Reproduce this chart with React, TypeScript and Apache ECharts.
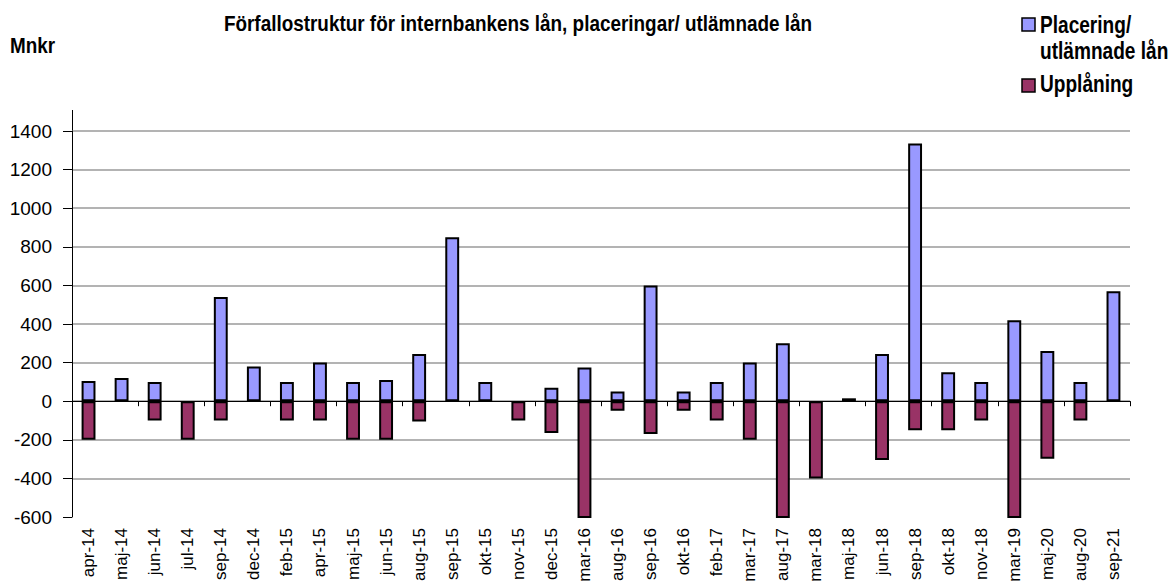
import React, { useEffect, useRef } from "react";
import * as echarts from "echarts";

const categories = [
  "apr-14", "maj-14", "jun-14", "jul-14", "sep-14", "dec-14", "feb-15", "apr-15",
  "maj-15", "jun-15", "aug-15", "sep-15", "okt-15", "nov-15", "dec-15", "mar-16",
  "aug-16", "sep-16", "okt-16", "feb-17", "mar-17", "aug-17", "mar-18", "maj-18",
  "jun-18", "sep-18", "okt-18", "nov-18", "mar-19", "maj-20", "aug-20", "sep-21",
];

const placering = [
  105, 120, 100, null, 540, 180, 100, 200,
  100, 110, 245, 850, 100, null, 70, 175,
  50, 600, 50, 100, 200, 300, null, 15,
  245, 1335, 150, 100, 420, 260, 100, 570,
];

const upplaning = [
  -200, null, -100, -200, -100, null, -100, -100,
  -200, -200, -105, null, null, -100, -165, -700,
  -50, -170, -50, -100, -200, -700, -400, null,
  -305, -150, -150, -100, -700, -298, -100, null,
];

const yTicks = { min: -600, max: 1400, interval: 200 };

const titleText = "Förfallostruktur för internbankens lån, placeringar/ utlämnade lån";
const unitText = "Mnkr";
const seriesNames = ["Placering/ utlämnade lån", "Upplåning"];
const legendLines = ["Placering/", "utlämnade lån", "Upplåning"];

const BLUE = "#9999FF";
const PURPLE = "#993366";
const ARIAL = "Arial, 'Liberation Sans', sans-serif";

export default function App() {
  const ref = useRef<HTMLDivElement>(null);

  useEffect(() => {
    if (!ref.current) return;
    const chart = echarts.init(ref.current, null, { renderer: "svg" });
    const nLines = (yTicks.max - yTicks.min) / yTicks.interval + 1;
    const splitColors = Array.from({ length: nLines }, (_, i) => (i === 0 ? "rgba(0,0,0,0)" : "#9a9a9a"));

    const boldText = (text: string, x: number, y: number, size: number, sx: number, align = "left") => ({
      type: "text",
      x,
      y,
      scaleX: sx,
      style: {
        text,
        font: `bold ${size}px ${ARIAL}`,
        fill: "#000",
        align,
        verticalAlign: "middle",
      },
    });

    chart.setOption({
      animation: false,
      backgroundColor: "#ffffff",
      grid: { left: 72, right: 40, top: 131, bottom: 67, containLabel: false, outerBoundsMode: "none" },
      xAxis: [
        {
          type: "category",
          data: categories,
          position: "bottom",
          boundaryGap: true,
          axisLine: { show: true, onZero: true, lineStyle: { color: "#000", width: 1 } },
          axisTick: { show: true, length: 5, lineStyle: { color: "#000" } },
          axisLabel: { show: false },
          splitLine: { show: false },
        },
        {
          type: "category",
          data: categories,
          position: "bottom",
          boundaryGap: true,
          axisLine: { show: false, onZero: false },
          axisTick: { show: false },
          axisLabel: {
            show: true,
            interval: 0,
            rotate: 90,
            margin: 11,
            fontFamily: ARIAL,
            fontSize: 17,
            color: "#000",
          },
          splitLine: { show: false },
        },
      ],
      yAxis: {
        type: "value",
        min: yTicks.min,
        max: yTicks.max,
        interval: yTicks.interval,
        axisLine: { show: true, lineStyle: { color: "#000", width: 1 } },
        axisTick: { show: true, length: 9, lineStyle: { color: "#000" } },
        axisLabel: {
          margin: 20,
          fontFamily: ARIAL,
          fontSize: 19,
          color: "#000",
          formatter: (v: number) => String(v),
        },
        splitLine: { show: true, lineStyle: { color: splitColors, width: 1.5 } },
      },
      series: [
        {
          name: seriesNames[0],
          type: "bar",
          stack: "total",
          data: placering,
          barWidth: "42%",
          clip: true,
          itemStyle: { color: BLUE, borderColor: "#000", borderWidth: 2 },
        },
        {
          name: seriesNames[1],
          type: "bar",
          stack: "total",
          data: upplaning,
          barWidth: "42%",
          clip: true,
          itemStyle: { color: PURPLE, borderColor: "#000", borderWidth: 2 },
        },
      ],
      graphic: [
        {
          type: "line",
          shape: { x1: 72.5, y1: 110, x2: 72.5, y2: 131 },
          style: { stroke: "#000", lineWidth: 1 },
        },
        boldText(titleText, 518, 22.5, 22, 0.86, "center"),
        boldText(unitText, 10, 44.5, 22, 0.86),
        {
          type: "rect",
          shape: { x: 1022, y: 18, width: 13, height: 13 },
          style: { fill: BLUE, stroke: "#000", lineWidth: 1.5 },
        },
        boldText(legendLines[0], 1040, 24.5, 23, 0.83),
        boldText(legendLines[1], 1040, 50.5, 23, 0.83),
        {
          type: "rect",
          shape: { x: 1022, y: 79, width: 13, height: 13 },
          style: { fill: PURPLE, stroke: "#000", lineWidth: 1.5 },
        },
        boldText(legendLines[2], 1040, 83.5, 23, 0.83),
      ],
    });
    return () => chart.dispose();
  }, []);

  return (
    <div
      ref={ref}
      style={{ position: "fixed", left: 0, top: 0, width: 1170, height: 584, background: "#fff" }}
    />
  );
}
